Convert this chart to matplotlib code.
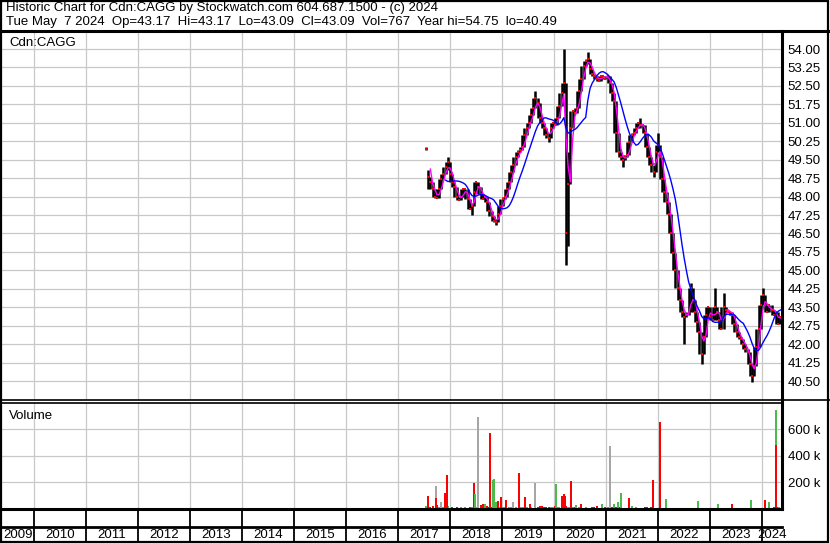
import numpy as np
import pandas as pd
import matplotlib
matplotlib.use('Agg')
import matplotlib.pyplot as plt
from matplotlib.patches import Rectangle

plt.rcParams['font.family'] = ['Liberation Sans', 'DejaVu Sans']

W, H = 830, 543

# semi-monthly closes, Jul 2017 .. May 7 2024
close = [
    49.95, 48.8, 48.6, 48.3, 48.0, 47.95, 48.3, 48.7, 48.9, 49.2, 49.4,  # 2017
    48.9, 48.6, 48.4, 48.0, 47.85, 48.0, 48.3, 48.3, 47.9, 47.5, 47.6, 48.2,
    48.6, 48.4, 48.1, 47.9, 48.0, 47.8, 47.4, 47.2, 47.0, 46.95, 47.3, 47.6,  # 2018
    47.9, 48.0, 48.3, 48.6, 49.0, 49.3, 49.6, 49.8, 49.9, 50.0, 50.5, 50.8,
    51.0, 51.3, 51.6, 52.0, 51.8, 51.2, 51.0, 50.8, 50.5, 50.4, 50.8, 51.0,  # 2019
    50.9, 51.2, 51.7, 52.2, 52.6, 46.5, 48.5, 50.8, 51.5, 51.4, 51.6, 52.3,
    52.8, 53.3, 53.5, 53.6, 53.2, 53.0, 52.9, 52.8, 52.7, 52.9, 52.9, 52.8,  # 2020
    52.9, 52.6, 52.2, 51.9, 50.6, 49.8, 49.6, 49.5, 49.6, 49.7, 50.2, 50.5,
    50.6, 50.8, 51.0, 50.9, 50.9, 50.6, 50.0, 49.6, 49.3, 49.0, 49.8, 50.1,  # 2021
    49.6, 48.7, 48.2, 47.8, 47.3, 46.5, 45.7, 45.0, 44.3, 43.8, 43.3, 43.1,
    43.2, 43.3, 44.3, 43.8, 43.3, 42.9, 42.5, 41.6, 42.3, 43.2, 43.5, 43.1,  # 2022
    43.0, 43.5, 43.3, 43.0, 42.6, 43.5, 43.4, 43.3, 43.3, 43.2, 42.8, 42.5,
    42.3, 42.2, 42.0, 41.8, 41.7, 41.2, 40.7, 41.1, 41.9, 42.6, 43.6, 44.0,  # 2023
    43.6, 43.3, 43.6, 43.4, 43.2, 43.3, 42.8, 43.09,  # 2024
]

# period ranges where the daily high/low differ from the nearby closes
extremes = {0: (49.9, 50.0), 1: (48.3, 49.1), 10: (49.1, 49.6), 21: (47.25, 47.7),
            32: (46.85, 47.1), 50: (51.6, 52.3), 56: (50.2, 50.6), 63: (52.2, 54.0),
            64: (45.2, 52.6), 65: (46.0, 49.8), 74: (53.4, 53.9), 90: (49.2, 49.7),
            98: (50.8, 51.2), 104: (48.8, 49.3), 106: (49.8, 50.6), 118: (42.0, 43.3),
            121: (43.3, 44.5), 126: (41.2, 42.5), 132: (43.0, 44.3), 136: (42.6, 44.1),
            149: (40.47, 41.2), 154: (43.6, 44.3)}

# background volume (thousands) per period
base_vol = [
    20, 35, 15, 25, 10, 30, 18, 22, 12, 28, 20,
    10, 12, 8, 15, 10, 12, 9, 14, 10, 12, 16, 20, 18, 25, 30, 40, 35, 22, 18, 15, 20, 25, 14, 12,
    15, 12, 10, 14, 18, 20, 12, 10, 16, 14, 12, 15, 10, 12, 9, 14, 18, 20, 22, 16, 14, 12, 15, 18,
    20, 16, 14, 25, 30, 22, 18, 15, 12, 14, 10, 12, 9, 10, 12, 8, 10, 12, 14, 20, 10, 9, 8, 12,
    14, 10, 12, 25, 18, 15, 12, 10, 8, 10, 9, 8, 10, 12, 9, 8, 10, 12, 15, 10, 12, 9, 10, 8,
    15, 10, 8, 6, 8, 6, 5, 6, 8, 5, 6, 5, 4, 6, 5, 4, 6, 5, 6, 8, 5, 4, 6, 5,
    6, 5, 4, 6, 5, 8, 6, 5, 4, 6, 5, 4, 6, 5, 4, 5, 6, 4, 5, 6, 4, 5, 6, 5,
    8, 10, 6, 8, 12, 20, 15, 10,
]

# big volume days
spike_dates = ['2017-07-26', '2017-09-23', '2017-09-25', '2017-10-28', '2017-11-25', '2017-12-09',
               '2018-06-14', '2018-06-23', '2018-07-12', '2018-10-08', '2018-10-27', '2018-11-05',
               '2018-11-17', '2018-12-06', '2018-12-22', '2019-01-31', '2019-03-16', '2019-05-02',
               '2019-06-08', '2019-07-15', '2019-08-17', '2020-01-16', '2020-02-24', '2020-03-07',
               '2020-03-16', '2020-04-26', '2020-05-31', '2020-07-05', '2020-12-04', '2021-01-24',
               '2021-02-23', '2021-03-21', '2021-04-11', '2021-06-06', '2021-07-01', '2021-11-26',
               '2022-01-13', '2022-02-24', '2022-10-06', '2023-02-25', '2023-06-01', '2023-10-13',
               '2024-01-20', '2024-02-15', '2024-04-07', '2024-04-08', '2024-04-28']
spike_vol = [100, 170, 80, 54, 123, 254,
             193, 116, 689, 570, 215, 222,
             52, 62, 92, 70, 52, 270,
             92, 38, 193, 190, 100, 116,
             100, 208, 30, 38, 38, 470,
             38, 54, 123, 85, 25, 216,
             655, 77, 62, 38, 38, 70,
             70, 54, 740, 478, 15]
spike_kind = ['r', 'n', 'r', 'n', 'r', 'r',
              'r', 'g', 'n', 'r', 'g', 'g',
              'g', 'r', 'r', 'r', 'n', 'r',
              'r', 'r', 'n', 'g', 'r', 'r',
              'r', 'r', 'g', 'r', 'g', 'n',
              'g', 'g', 'g', 'r', 'g', 'r',
              'r', 'g', 'g', 'g', 'r', 'g',
              'r', 'g', 'g', 'r', 'g']

years = list(range(2009, 2025))
price_ticks = np.arange(40.5, 54.01, 0.75)
vol_ticks = [200000, 400000, 600000]

RED, GREEN, GRAY = '#ff0000', '#4cbb4c', '#a6a6a6'
kind_color = {'r': RED, 'g': GREEN, 'n': GRAY}
GRID = '#c8c8c8'
FS = 9.5

dates = pd.date_range('2017-07-15', '2024-05-07', periods=len(close))
cl = np.array(close)
prev = np.concatenate([[cl[0]], cl[:-1]])
nxt = np.concatenate([cl[1:], [cl[-1]]])
# each period's bar spans the closes around it
lo = np.minimum.reduce([prev, cl, nxt])
hi = np.maximum.reduce([prev, cl, nxt])
for k, (a, b) in extremes.items():
    lo[k], hi[k] = a, b

xmin, xmax = pd.Timestamp('2009-05-22'), pd.Timestamp('2024-05-18')
year_starts = pd.to_datetime([f'{y}-01-01' for y in years[1:]])

fig = plt.figure(figsize=(W / 100, H / 100), dpi=100)


def px_axes(x0, y0, x1, y1):
    return fig.add_axes([x0 / W, 1 - y1 / H, (x1 - x0) / W, (y1 - y0) / H])


# ---- price panel
ax = px_axes(2, 30.6, 782, 399.5)
ax.set_xlim(xmin, xmax)
ax.set_ylim(39.75, 54.75)
ax.set_xticks(year_starts)
ax.set_xticklabels([])
ax.set_yticks(price_ticks)
ax.set_yticklabels([f'{v:.2f}' for v in price_ticks])
ax.yaxis.tick_right()
ax.tick_params(length=0, labelsize=FS, pad=4)
ax.grid(True, color=GRID, lw=0.9)
ax.set_axisbelow(True)
for s in ax.spines.values():
    s.set_visible(False)
ax.vlines(dates, lo, hi, color='black', lw=1.8, zorder=2)
ax.plot(dates, cl, 's', color=RED, ms=2, mew=0, zorder=3)
ser = pd.Series(cl)
ax.plot(dates, ser.rolling(3).mean(), color='#ff00ff', lw=1, zorder=4)
ax.plot(dates, ser.rolling(10).mean(), color='#0000ff', lw=1, zorder=4)
ax.text(0.009, 0.982, 'Cdn:CAGG', transform=ax.transAxes, fontsize=FS, va='top')

# ---- volume panel
av = px_axes(2, 402.5, 782, 509)
av.set_xlim(xmin, xmax)
av.set_ylim(0, 800000)
av.set_xticks(year_starts)
av.set_xticklabels([])
av.set_yticks(vol_ticks)
av.set_yticklabels([f'{v // 1000} k' for v in vol_ticks])
av.yaxis.tick_right()
av.tick_params(length=0, labelsize=FS, pad=4)
av.grid(True, color=GRID, lw=0.9)
av.set_axisbelow(True)
for s in av.spines.values():
    s.set_visible(False)
base_col = [GREEN if c >= p else RED for c, p in zip(cl, prev)]
av.bar(dates, np.array(base_vol) * 1000, width=14, color=base_col, lw=0, zorder=2)
av.bar(pd.to_datetime(spike_dates), np.array(spike_vol) * 1000, width=14,
       color=[kind_color[k] for k in spike_kind], lw=0, zorder=3)
av.text(0.009, 0.93, 'Volume', transform=av.transAxes, fontsize=FS, va='top')

# ---- year band
ay = px_axes(2, 509, 782, 543)
ay.set_xlim(xmin, xmax)
ay.set_ylim(0, 1)
ay.axis('off')
ay.vlines(year_starts, 0, 1, color='black', lw=1.3)
for y in years:
    a = max(pd.Timestamp(f'{y}-01-01'), xmin)
    b = min(pd.Timestamp(f'{y + 1}-01-01'), xmax)
    ay.text(a + (b - a) / 2, 0.24, str(y), ha='center', va='center', fontsize=FS)

# ---- frame lines and header
ao = fig.add_axes([0, 0, 1, 1], zorder=10)
ao.set_xlim(0, W)
ao.set_ylim(H, 0)
ao.axis('off')
ao.add_patch(Rectangle((0.8, 0.8), W - 2.6, H - 1.8, fill=False, ec='black', lw=1.6))
ao.plot([0, W], [31, 31], color='black', lw=2.2)
ao.plot([0, W], [400, 400], color='black', lw=1.2)
ao.plot([0, 782], [403, 403], color='black', lw=1.2)
ao.plot([0, 782], [509, 509], color='black', lw=2.2)
ao.plot([0, 782], [527, 527], color='black', lw=2)
ao.plot([782, 782], [31, 509], color='black', lw=2.2)
ao.text(6, 8.5, 'Historic Chart for Cdn:CAGG by Stockwatch.com 604.687.1500 - (c) 2024',
        fontsize=FS, va='center')
ao.text(6, 22, 'Tue May  7 2024  Op=43.17  Hi=43.17  Lo=43.09  Cl=43.09  Vol=767  '
        'Year hi=54.75  lo=40.49', fontsize=FS, va='center')

fig.savefig('out.png', dpi=100)
